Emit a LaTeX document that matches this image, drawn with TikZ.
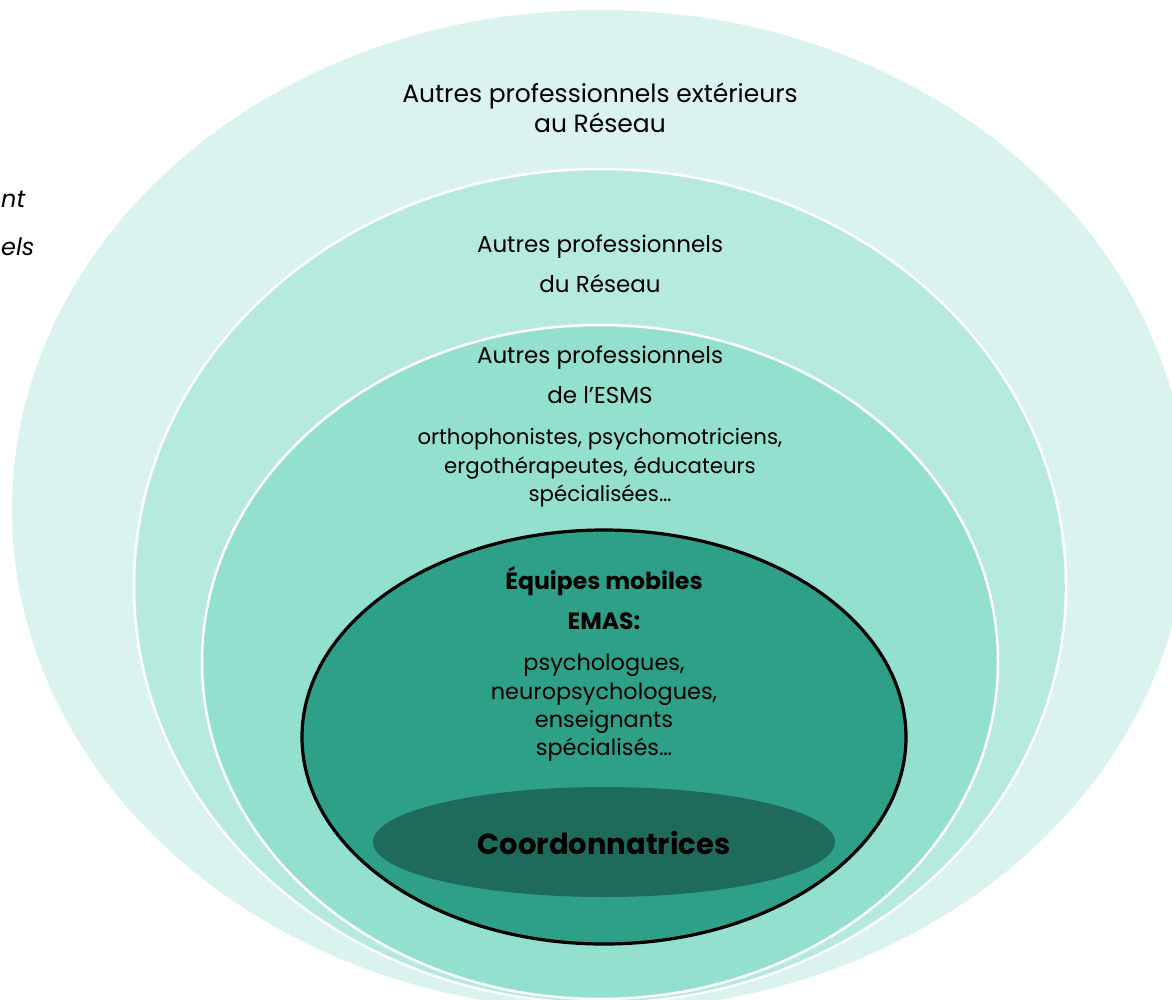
\documentclass[tikz,border=0pt]{standalone}
\usepackage{fontspec}
\setmainfont{Poppins}
\usetikzlibrary{shapes.geometric}
\definecolor{palemint}{HTML}{DAF3EE}
\definecolor{lightmint}{HTML}{B5EADD}
\definecolor{midmint}{HTML}{94E0CF}
\definecolor{teal}{HTML}{2FA088}
\definecolor{darkteal}{HTML}{1E6B5B}
\tikzstyle{ring}=[ellipse,draw=white,line width=2.5pt,inner sep=0pt,outer sep=0pt]
\newcommand{\ring}[6]{\node[ring,fill=#5,minimum width=#3,minimum height=#4,#6] (#1) at (#2) {};}
\newcommand{\ringtext}[4]{\node[txtline,#4] (#1) at (#2) {#3};}
\tikzset{
	txtline/.style={anchor=base,inner sep=0pt,font=\fontsize{22.4}{26}\selectfont},
	bigline/.style={txtline,font=\fontsize{25}{29}\selectfont},
	midline/.style={txtline,font=\fontsize{23}{27}\selectfont},
	smallline/.style={txtline,font=\fontsize{21.3}{25}\selectfont},
	boldline/.style={txtline,font=\fontsize{23.5}{27}\selectfont\bfseries},
	sideline/.style={txtline,anchor=base west,font=\fontsize{24}{28}\selectfont\itshape},
}

\begin{document}
\begin{tikzpicture}[x=1pt,y=-1pt]
    \useasboundingbox (0,0) rectangle (1172,999);
    \clip (0,0) rectangle (1172,999);

        \ring{ext}{600,510}{1176pt}{1000pt}{palemint}{draw=none}
        \ring{res}{600,586}{932pt}{834pt}{lightmint}{}
        \ring{esms}{600,662}{796pt}{674pt}{midmint}{}
        \ring{emas}{604,737}{604pt}{414pt}{teal}{draw=black,line width=3.2pt}
        \ring{coord}{604,842}{462pt}{110pt}{darkteal}{draw=none}

    % texts on the left edge
        \ringtext{side1}{1,207}{nt}{sideline}
        \ringtext{side2}{1,255}{els}{sideline}

        \ringtext{ext1}{600,102}{Autres professionnels extérieurs}{bigline}
        \ringtext{ext2}{600,132}{au Réseau}{bigline}

        \ringtext{res1}{600,252}{Autres professionnels}{midline}
        \ringtext{res2}{600,292}{du Réseau}{midline}

        \ringtext{esms1}{600,363}{Autres professionnels}{midline}
        \ringtext{esms2}{600,403}{de l’ESMS}{midline}
        \ringtext{esms3}{600,444}{orthophonistes, psychomotriciens,}{smallline}
        \ringtext{esms4}{600,473}{ergothérapeutes, éducateurs}{smallline}
        \ringtext{esms5}{600,501}{spécialisées…}{smallline}

        \ringtext{emas1}{604,589}{Équipes mobiles}{boldline}
        \ringtext{emas2}{604,629}{EMAS:}{boldline}
        \ringtext{emas3}{604,670}{psychologues,}{}
        \ringtext{emas4}{604,699}{neuropsychologues,}{}
        \ringtext{emas5}{604,727}{enseignants}{}
        \ringtext{emas6}{604,755}{spécialisés…}{}

        \ringtext{coord1}{604,854}{Coordonnatrices}{boldline,font=\fontsize{29}{34}\selectfont\bfseries}
\end{tikzpicture}
\end{document}
